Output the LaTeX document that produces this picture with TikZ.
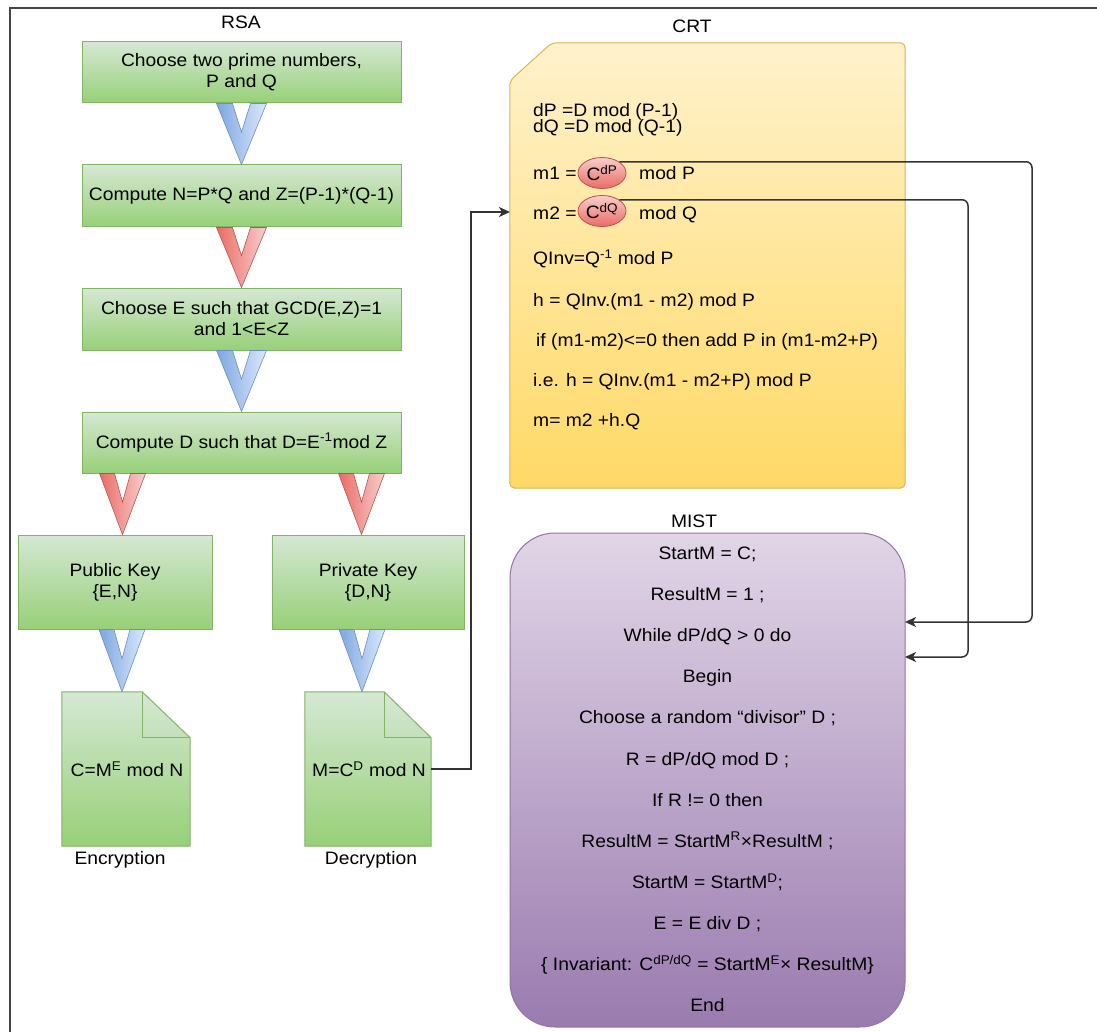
\documentclass[tikz,border=0pt]{standalone}
\usepackage{fontspec}
\setmainfont{Liberation Sans}[FakeStretch=1.07]
\usetikzlibrary{calc,arrows.meta,shapes.geometric}
\definecolor{gtop}{HTML}{D5E8D4}
\definecolor{gbot}{HTML}{97D077}
\definecolor{gstroke}{HTML}{82B366}
\definecolor{btop}{HTML}{DAE8FC}
\definecolor{bbot}{HTML}{7EA6E0}
\definecolor{bstroke}{HTML}{6C8EBF}
\definecolor{rtop}{HTML}{F8CECC}
\definecolor{rbot}{HTML}{EA6B66}
\definecolor{rstroke}{HTML}{B85450}
\definecolor{ytop}{HTML}{FFF2CC}
\definecolor{ybot}{HTML}{FFD966}
\definecolor{ystroke}{HTML}{D6B656}
\definecolor{ptop}{HTML}{E1D5E7}
\definecolor{pbot}{HTML}{9A7BAF}
\definecolor{pstroke}{HTML}{9673A6}
\definecolor{linec}{HTML}{333333}
\definecolor{framec}{HTML}{444444}
\newcommand\vchev[5]{%
  \path[#5] ($(#1)+(-#3,0)$) -- (#2) -- ($(#1)+(#3,0)$) -- ($(#1)+(#4,0)$)
    -- ($(#1)!0.47!(#2)$) -- ($(#1)+(-#4,0)$) -- cycle;}
\begin{document}
\begin{tikzpicture}[x=1pt,y=-1pt,
  every node/.style={font=\fontsize{18}{21}\selectfont, text=black, inner sep=0pt},
  ln/.style={text height=13pt, text depth=4pt},
  gbox/.style={draw=gstroke, top color=gtop, bottom color=gbot, line width=1pt, align=center},
  bluev/.style={draw=bstroke, line width=0.6pt, left color=bbot, right color=btop},
  redv/.style={draw=rstroke, line width=0.6pt, left color=rbot, right color=rtop},
  docfill/.style={draw=gstroke, top color=gtop, bottom color=gbot, line width=1pt},
  redell/.style={ellipse, draw=rstroke, top color=rtop, bottom color=rbot, line width=0.8pt,
    minimum width=48pt, minimum height=31pt},
  conn/.style={draw=linec, line width=1.5pt, -{Stealth[length=11pt,width=10pt,inset=3pt]}}
]
\useasboundingbox (0,0) rectangle (1097,1032);
\fill[white] (0,0) rectangle (1097,1032);
% frame
\draw[line width=2pt, framec] (10,1032) -- (10,8) -- (1097,8);

% ---- RSA column ----
\node[ln] (rsal) at (241,24) {RSA};
\node[gbox, minimum width=319pt, minimum height=61pt] (b1) at (241.5,72.5) {Choose two prime numbers,\\P and Q};
\node[gbox, minimum width=319pt, minimum height=62pt] (b2) at (241.5,196) {Compute N=P*Q and Z=(P-1)*(Q-1)};
\node[gbox, minimum width=319pt, minimum height=62pt] (b3) at (241.5,319) {Choose E such that GCD(E,Z)=1\\and 1<E<Z};
\node[gbox, minimum width=319pt, minimum height=61pt] (b4) at (241.5,442.5) {Compute D such that D=E\textsuperscript{-1}mod Z};
\node[gbox, minimum width=194pt, minimum height=94pt] (pub) at (115,582) {Public Key\\\{E,N\}};
\node[gbox, minimum width=192pt, minimum height=94pt] (priv) at (368,582) {Private Key\\\{D,N\}};

\vchev{b1.south}{b2.north}{25}{9}{bluev}
\vchev{b2.south}{b3.north}{25}{9}{redv}
\vchev{b3.south}{b4.north}{25}{9}{bluev}

\coordinate (v4t) at ($(b4.south west)+(41,0)$);
\coordinate (v4b) at (pub.north -| v4t);
\coordinate (v5t) at ($(b4.south east)+(-40,0)$);
\coordinate (v5b) at (priv.north -| v5t);
\vchev{v4t}{v4b}{23}{8}{redv}
\vchev{v5t}{v5b}{23}{8}{redv}

% documents
\node[minimum width=128pt, minimum height=154pt] (doc1) at (126,769) {};
\node[minimum width=126pt, minimum height=154pt] (doc2) at (368,769) {};
\path[docfill] (doc1.north west) -- ($(doc1.north east)+(-48,0)$) -- ($(doc1.north east)+(0,46)$)
  -- (doc1.south east) -- (doc1.south west) -- cycle;
\draw[gstroke, line width=1pt] ($(doc1.north east)+(-48,0)$) |- ($(doc1.north east)+(0,46)$);
\path[docfill] (doc2.north west) -- ($(doc2.north east)+(-47,0)$) -- ($(doc2.north east)+(0,46)$)
  -- (doc2.south east) -- (doc2.south west) -- cycle;
\draw[gstroke, line width=1pt] ($(doc2.north east)+(-47,0)$) |- ($(doc2.north east)+(0,46)$);
\node[ln] (doc1t) at (127,772) {C=M\textsuperscript{E} mod N};
\node[ln] (doc2t) at (369,772) {M=C\textsuperscript{D} mod N};
\node[ln] (enc) at (120,860) {Encryption};
\node[ln] (dec) at (371,860) {Decryption};

\coordinate (v6t) at (pub.south -| 122,0);
\coordinate (v6b) at (doc1.north -| v6t);
\coordinate (v7t) at (priv.south -| 362,0);
\coordinate (v7b) at (doc2.north -| v7t);
\vchev{v6t}{v6b}{23}{8}{bluev}
\vchev{v7t}{v7b}{23}{8}{bluev}

% ---- CRT ----
\node[ln] (crtl) at (692,28) {CRT};
\node[minimum width=395pt, minimum height=445pt] (crt) at (707.5,265.5) {};
\path[draw=ystroke, line width=1pt, top color=ytop, bottom color=ybot, rounded corners=5pt]
  ($(crt.north west)+(0,38)$) -- ($(crt.north west)+(42,0)$) -- (crt.north east)
  -- (crt.south east) -- (crt.south west) -- cycle;
\node[ln, anchor=west] (c1) at (533,112) {dP =D mod (P-1)};
\node[ln, anchor=west] (c2) at (533,128) {dQ =D mod (Q-1)};
\node[ln, anchor=west] (c3) at (533,175) {m1 =};
\node[redell] (e1) at (602,173) {C\textsuperscript{dP}};
\node[ln, anchor=west] (c3b) at (639,175) {mod P};
\node[ln, anchor=west] (c4) at (533,215) {m2 =};
\node[redell] (e2) at (602,211) {C\textsuperscript{dQ}};
\node[ln, anchor=west] (c4b) at (639,215) {mod Q};
\node[ln, anchor=west] (c5) at (533,260) {QInv=Q\textsuperscript{-1} mod P};
\node[ln, anchor=west] (c6) at (533,302) {h = QInv.(m1 - m2) mod P};
\node[ln, anchor=west] (c7) at (536,342) {if (m1-m2)<=0 then add P in (m1-m2+P)};
\node[ln, anchor=west] (c8) at (533,382) {i.e. h = QInv.(m1 - m2+P) mod P};
\node[ln, anchor=west] (c9) at (533,422) {m= m2 +h.Q};

% ---- MIST ----
\node[ln] (mistl) at (694,523) {MIST};
\node[draw=pstroke, line width=1pt, top color=ptop, bottom color=pbot, rounded corners=45pt,
  minimum width=395pt, minimum height=494pt] (mist) at (707.5,780) {};
\node[ln] (m1) at (707.5,555.0) {StartM = C;};
\node[ln] (m2) at (707.5,596.1) {ResultM = 1 ;};
\node[ln] (m3) at (707.5,637.2) {While dP/dQ > 0 do};
\node[ln] (m4) at (707.5,678.3) {Begin};
\node[ln] (m5) at (707.5,719.4) {Choose a random “divisor” D ;};
\node[ln] (m6) at (707.5,760.5) {R = dP/dQ mod D ;};
\node[ln] (m7) at (707.5,801.6) {If R != 0 then};
\node[ln] (m8) at (707.5,842.7) {ResultM = StartM\textsuperscript{R}×ResultM ;};
\node[ln] (m9) at (707.5,883.8) {StartM = StartM\textsuperscript{D};};
\node[ln] (m10) at (707.5,924.9) {E = E div D ;};
\node[ln] (m11) at (707.5,966.0) {\{ Invariant: C\textsuperscript{dP/dQ} = StartM\textsuperscript{E}× ResultM\}};
\node[ln] (m12) at (707.5,1007.1) {End};

% ---- connectors ----
\coordinate (r1) at (1032,0);
\coordinate (r2) at (968,0);
\coordinate (in1) at (905,622);
\coordinate (in2) at (905,657);
\coordinate (crtin) at (510,212);
\draw[conn, rounded corners=6pt] (e1.north east) -- (e1.north east -| r1) |- (in1);
\draw[conn, rounded corners=6pt] (e2.north east) -- (e2.north east -| r2) |- (in2);
\draw[conn] (doc2.east) -- ++(40,0) |- (crtin);
\end{tikzpicture}
\end{document}
